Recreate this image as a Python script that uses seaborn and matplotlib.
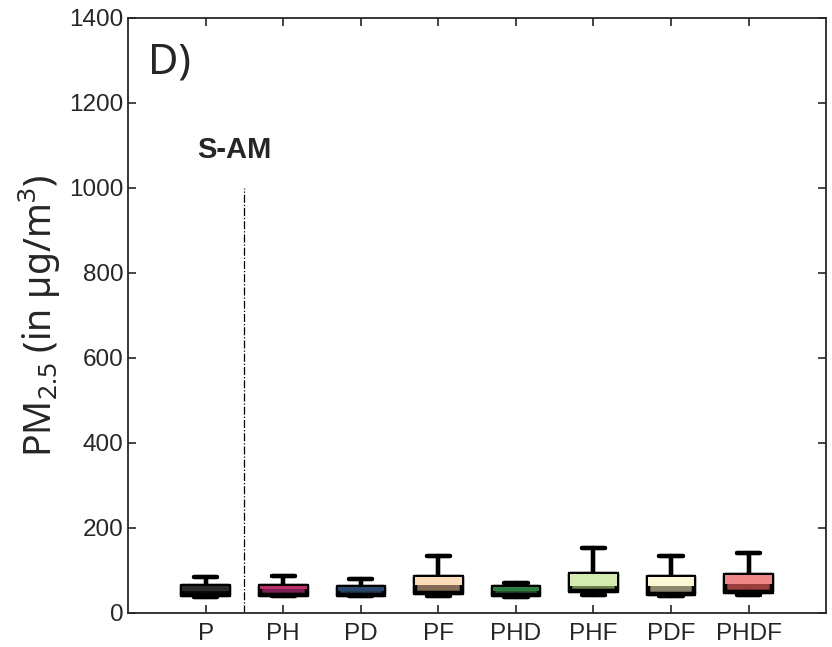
import numpy as np
import pandas as pd
import seaborn as sns
import matplotlib
matplotlib.use("Agg")
import matplotlib.pyplot as plt

categories = ["P", "PH", "PD", "PF", "PHD", "PHF", "PDF", "PHDF"]
whislo = [38, 40, 40, 40, 38, 42, 40, 42]
q1 = [42, 43, 43, 47, 42, 52, 45, 50]
med = [52, 57, 52, 66, 52, 64, 64, 68]
q3 = [63, 63, 62, 84, 60, 92, 84, 89]
whishi = [84, 87, 80, 135, 70, 152, 135, 140]
dark_colors = ["#0d0d0d", "#8a0f52", "#1e3a5c", "#8c6a4c", "#1b5a2c", "#6a8a48", "#8d8b6b", "#a82e2e"]
light_colors = ["#2a2a2a", "#b8306c", "#284870", "#fddcbc", "#2f7d40", "#d3eab0", "#faf8d4", "#ee8888"]

rows = []
for c, a, b, m, d, e in zip(categories, whislo, q1, med, q3, whishi):
    for v in (a, b, m, d, e):
        rows.append((c, v))
df = pd.DataFrame(rows, columns=["group", "pm"])

sns.set_style("ticks")
plt.rcParams["font.family"] = ["Liberation Sans", "DejaVu Sans"]
plt.rcParams["mathtext.default"] = "regular"

fig = plt.figure(figsize=(8.32, 6.47), dpi=100)
ax = fig.add_axes([0.154, 0.0526, 0.839, 0.9196])

line_kw = {"solid_capstyle": "round", "solid_joinstyle": "round"}
sns.boxplot(data=df, x="group", y="pm", hue="group", order=categories,
            hue_order=categories, palette=dark_colors, whis=(0, 100),
            width=0.6, linewidth=3, linecolor="black", showfliers=False,
            medianprops={"linewidth": 0}, legend=False, ax=ax)

ax.bar(np.arange(len(categories)), np.array(q3) - np.array(med), bottom=med,
       width=0.6, color=light_colors, linewidth=0, zorder=2.05)

sns.boxplot(data=df, x="group", y="pm", order=categories, whis=(0, 100),
            width=0.6, linewidth=3.2, color="black", fill=False, showfliers=False,
            medianprops={"linewidth": 0}, boxprops=line_kw, whiskerprops=line_kw,
            capprops=line_kw, ax=ax)

ax.vlines(0.5, 0, 1000, colors="black", linestyles="-.", linewidth=0.9)
ax.text(0.37, 1090, "S-AM", ha="center", va="center", fontsize=21, fontweight="bold")
ax.text(-0.74, 1295, "D)", ha="left", va="center", fontsize=30,
        family=["Noto Sans", "DejaVu Sans"])

ax.set_xlim(-1, 8)
ax.set_ylim(0, 1400)
ax.set_yticks(np.arange(0, 1401, 200))
ax.set_xlabel("")
ax.set_ylabel(r"PM$_{2.5}$ (in µg/m$^3$)", fontsize=27, family=["Noto Sans", "DejaVu Sans"])
ax.tick_params(direction="in", top=True, right=True, length=6, width=1.2,
               labelsize=17.5, colors="#262626", labelcolor="#262626")
ax.tick_params(axis="x", pad=7)
for s in ax.spines.values():
    s.set_visible(True)
    s.set_linewidth(1.3)
    s.set_color("#262626")

fig.savefig("out.png", dpi=100)
